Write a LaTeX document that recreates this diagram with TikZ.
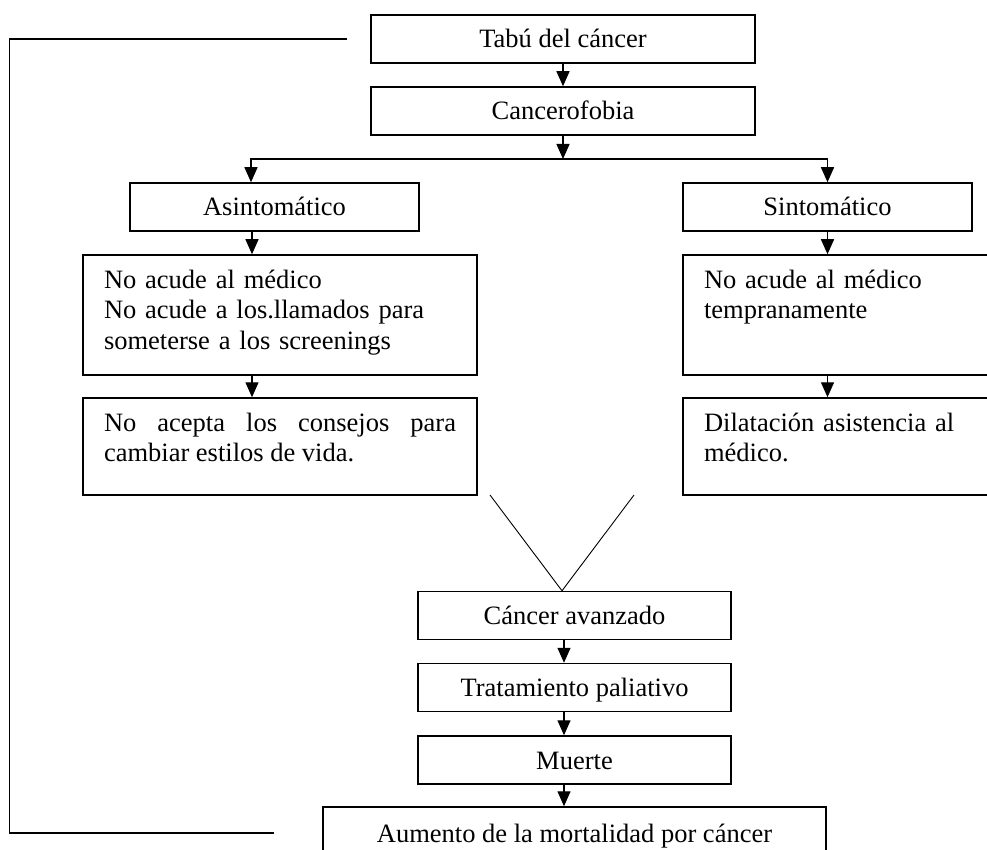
\documentclass[tikz,border=0pt]{standalone}
\usepackage{fontspec}
\setmainfont{Liberation Serif}
\usetikzlibrary{arrows.meta,positioning}
\hyphenpenalty=10000

\begin{document}
\begin{tikzpicture}[
  x=1pt, y=-1pt,
  every node/.style={font=\fontsize{26.5}{30.5}\selectfont},
  box/.style={draw, line width=1.5pt, minimum height=48pt, inner sep=0pt,
    text height=20pt, text depth=2pt},
  note/.style={draw, line width=1.5pt, inner xsep=21pt, inner ysep=14pt,
    text width=352pt, text height=19pt},
  arr/.style={-{Triangle[length=15pt,width=13pt]}, line width=1.4pt},
  link/.style={line width=1.5pt}
]
\useasboundingbox (0,0) rectangle (987,850);
\clip (0,0) rectangle (987,850);

\node[box, minimum width=384pt] (tabu) at (563,39) {Tabú del cáncer};
\node[box, minimum width=384pt] (fobia) at (563,111) {Cancerofobia};
\node[box, minimum width=289pt] (asin) at (274.5,207) {Asintomático};
\node[box, minimum width=289pt] (sint) at (827.5,207) {Sintomático};
\node[note, align=left, text depth=73pt] (nomed) at (280,315)
  {No acude al médico\\No acude a los.llamados para\\someterse a los screenings};
\node[note, align=justify, text depth=50pt] (estilos) at (280,446.5)
  {No acepta los consejos para cambiar estilos de vida.};
\node[note, align=left, text depth=73pt] (tarde) at (880,315)
  {No acude al médico\\tempranamente};
\node[note, align=left, text depth=50pt] (dilat) at (880,446.5)
  {Dilatación asistencia al\\médico.};
\node[box, minimum width=313pt] (avanz) at (574.5,615.5) {Cáncer avanzado};
\node[box, minimum width=313pt] (palia) at (574.5,687.5) {Tratamiento paliativo};
\node[box, minimum width=313pt] (muerte) at (574.5,760) {Muerte};
\node[box, minimum width=503pt, minimum height=52pt] (aumento) at (574.5,833)
  {Aumento de la mortalidad por cáncer};

% split below Cancerofobia
\coordinate (split) at (563,159);
\draw[arr] (tabu) -- (fobia);
\draw[arr] (fobia.south) -- (split);
\draw[arr] (split) -| ([xshift=-23.5pt]asin.north);
\draw[arr] (split) -| (sint.north);

% left branch
\coordinate (lx) at ([xshift=-22.5pt]asin.south);
\draw[arr] (lx) -- (lx |- nomed.north);
\draw[arr] (lx |- nomed.south) -- (lx |- estilos.north);

% right branch
\draw[arr] (sint.south) -- (sint.south |- tarde.north);
\draw[arr] (sint.south |- tarde.south) -- (sint.south |- dilat.north);

% both branches meet
\coordinate (vl) at (490,495);
\coordinate (vr) at (634,495);
\draw[line width=0.9pt] (vl) -- ([xshift=-12.5pt]avanz.north) -- (vr);

\coordinate (cx) at ([xshift=-10.5pt]avanz.south);
\draw[arr] (cx) -- (cx |- palia.north);
\draw[arr] (cx |- palia.south) -- (cx |- muerte.north);
\draw[arr] (cx |- muerte.south) -- (cx |- aumento.north);

% feedback loop
\draw[link] ([xshift=-23pt]tabu.west) -- ++(-338,0) |- ([xshift=-48pt]aumento.west);
\end{tikzpicture}
\end{document}
